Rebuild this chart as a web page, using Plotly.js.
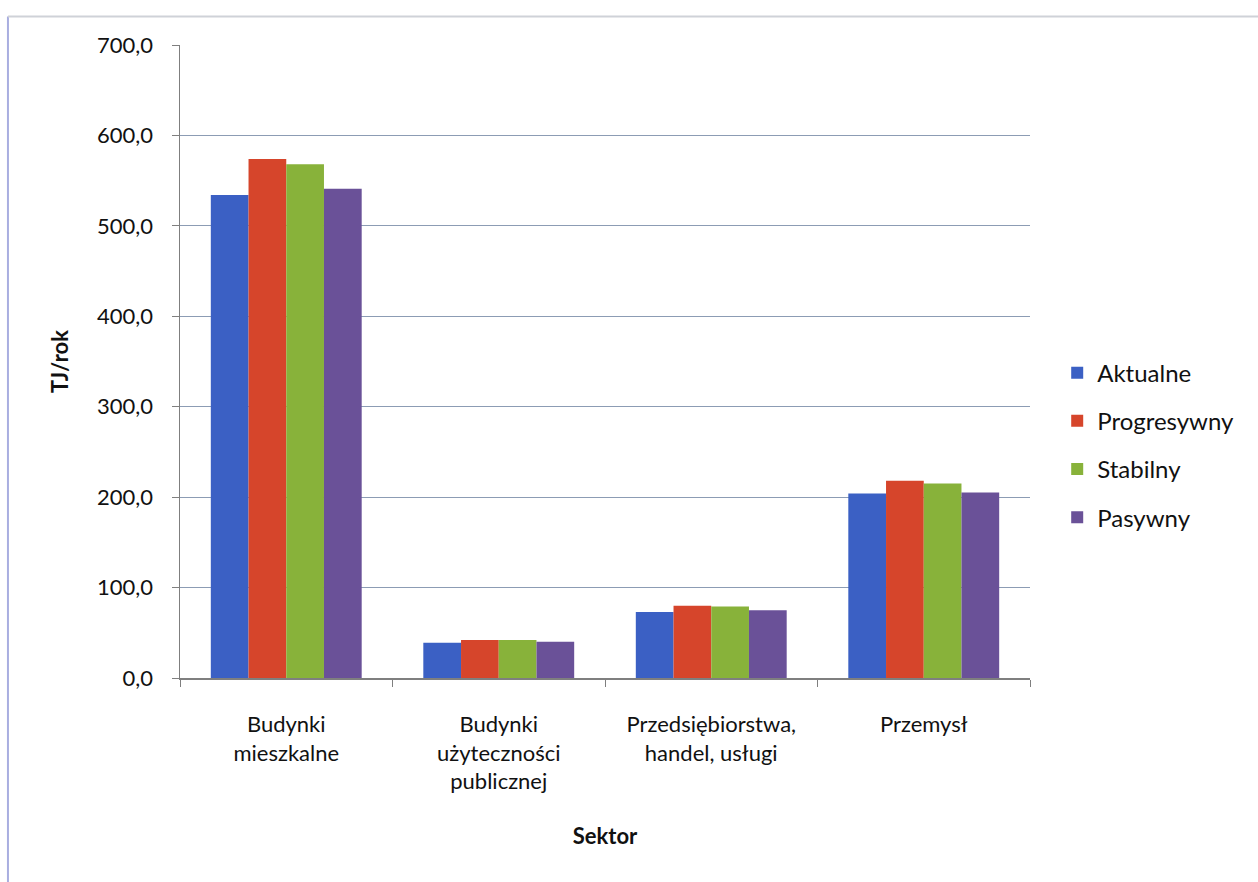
<!DOCTYPE html>
<html>
<head>
<meta charset="utf-8">
<script src="https://cdn.plot.ly/plotly-3.0.1.min.js"></script>
<style>
  html, body { margin: 0; padding: 0; background: #ffffff; }
  #chart { width: 1258px; height: 882px; }
</style>
</head>
<body>
<div id="chart"></div>
<script>
// Sectors on the category axis
const sectors = [
  'Budynki<br>mieszkalne',
  'Budynki<br>użyteczności<br>publicznej',
  'Przedsiębiorstwa,<br>handel, usługi',
  'Przemysł'
];

// Energy demand per scenario, TJ/rok
const aktualne    = [534, 39, 73, 204];
const progresywny = [574, 42, 80, 218];
const stabilny    = [568, 42, 79, 215];
const pasywny     = [541, 40, 75, 205];

const seriesNames  = ['Aktualne', 'Progresywny', 'Stabilny', 'Pasywny'];
const seriesValues = [aktualne, progresywny, stabilny, pasywny];
const seriesColors = ['#3b60c4', '#d6452b', '#88b23a', '#6a5198'];

const yTicks = [0, 100, 200, 300, 400, 500, 600, 700];

const font = 'Lato, "Open Sans", "Noto Sans", sans-serif';

const traces = seriesNames.map((name, i) => ({
  type: 'bar',
  name: name,
  x: sectors,
  y: seriesValues[i],
  legendgroup: name,
  marker: { color: seriesColors[i], line: { width: 0 } },
  hoverinfo: 'skip'
}));

const layout = {
  width: 1258,
  height: 882,
  paper_bgcolor: '#ffffff',
  plot_bgcolor: '#ffffff',
  separators: ', ',
  margin: { l: 180, r: 228, t: 45, b: 204 },
  barmode: 'group',
  bargap: 0.29,
  bargroupgap: 0,
  font: { family: font, size: 22, color: '#111111' },
  showlegend: true,
  legend: {
    x: 1.032, xanchor: 'left',
    y: 0.368, yanchor: 'middle',
    font: { family: font, size: 24, color: '#111111' },
    tracegroupgap: 14,
    itemwidth: 30,
    bgcolor: 'rgba(0,0,0,0)'
  },
  xaxis: {
    type: 'category',
    showgrid: false,
    showline: true,
    linecolor: '#7f7f7f',
    linewidth: 1.5,
    ticks: 'outside',
    tickson: 'boundaries',
    ticklen: 7,
    tickcolor: '#7f7f7f',
    ticklabelstandoff: 26,
    tickfont: { family: font, size: 22, color: '#111111' },
    title: {
      text: '<b>Sektor</b>',
      font: { family: font, size: 22, color: '#111111' },
      standoff: 35
    },
    automargin: false
  },
  yaxis: {
    range: [0, 700],
    tickvals: yTicks,
    tickformat: '.1f',
    showgrid: true,
    gridcolor: '#8c9cb4',
    gridwidth: 1.2,
    zeroline: false,
    showline: true,
    linecolor: '#7f7f7f',
    linewidth: 1.5,
    ticks: 'outside',
    ticklen: 7,
    tickcolor: '#7f7f7f',
    ticklabelstandoff: 14,
    tickfont: { family: font, size: 22, color: '#111111' },
    title: {
      text: '<b>TJ/rok</b>',
      font: { family: font, size: 22, color: '#111111' },
      standoff: 22
    },
    automargin: false
  },
  shapes: [
    {
      type: 'line', xref: 'paper', yref: 'paper',
      x0: -0.2024, x1: -0.2024, y0: 1.045, y1: -0.33,
      line: { color: '#a9aee0', width: 2 }
    },
    {
      type: 'line', xref: 'paper', yref: 'paper',
      x0: -0.2024, x1: 1.27, y0: 1.045, y1: 1.045,
      line: { color: '#cfd2d8', width: 2 }
    }
  ]
};

Plotly.newPlot('chart', traces, layout, { displayModeBar: false, staticPlot: true });
</script>
</body>
</html>
